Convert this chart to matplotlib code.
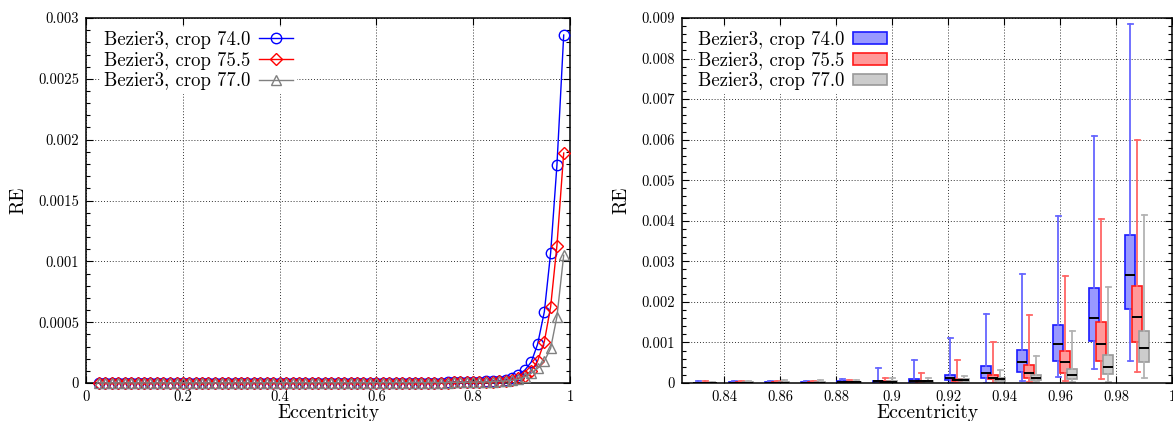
import matplotlib
matplotlib.use("Agg")
import matplotlib.pyplot as plt
from matplotlib.ticker import MultipleLocator, FuncFormatter
from matplotlib.lines import Line2D
from matplotlib.patches import Patch

plt.rcParams['font.family'] = ['cmr10', 'DejaVu Serif']
plt.rcParams['axes.formatter.use_mathtext'] = True
plt.rcParams['mathtext.fontset'] = 'cm'

# ---------------- data: left panel (mean RE vs eccentricity) ----------------
ecc = [0.027, 0.040, 0.053, 0.067, 0.080, 0.093, 0.107, 0.120, 0.133, 0.147,
       0.160, 0.173, 0.187, 0.200, 0.213, 0.227, 0.240, 0.253, 0.267, 0.280,
       0.293, 0.307, 0.320, 0.333, 0.347, 0.360, 0.373, 0.387, 0.400, 0.413,
       0.427, 0.440, 0.453, 0.467, 0.480, 0.493, 0.507, 0.520, 0.533, 0.547,
       0.560, 0.573, 0.587, 0.600, 0.613, 0.627, 0.640, 0.653, 0.667, 0.680,
       0.693, 0.707, 0.720, 0.733, 0.747, 0.760, 0.773, 0.787, 0.800, 0.813,
       0.827, 0.840, 0.853, 0.867, 0.880, 0.893, 0.907, 0.920, 0.933, 0.947,
       0.960, 0.973, 0.987]

re_740 = [1e-6, 1e-6, 1e-6, 1e-6, 1e-6, 1e-6, 1e-6, 1e-6, 1e-6, 1e-6,
          1e-6, 1e-6, 1e-6, 1e-6, 1e-6, 1e-6, 1e-6, 1e-6, 1e-6, 2e-6,
          2e-6, 2e-6, 2e-6, 2e-6, 2e-6, 2e-6, 2e-6, 2e-6, 2e-6, 2e-6,
          2e-6, 2e-6, 2e-6, 2e-6, 2e-6, 2e-6, 2e-6, 2e-6, 2e-6, 3e-6,
          3e-6, 3e-6, 3e-6, 3e-6, 3e-6, 3e-6, 3e-6, 3e-6, 3e-6, 4e-6,
          4e-6, 4e-6, 4e-6, 4e-6, 5e-6, 6e-6, 7e-6, 8e-6, 1.0e-5, 1.1e-5,
          1.3e-5, 1.6e-5, 2.0e-5, 2.8e-5, 4.0e-5, 6.5e-5, 0.000107, 0.000173, 0.000318, 0.000586,
          0.00107, 0.00179, 0.00286]

re_755 = [1e-6, 1e-6, 1e-6, 1e-6, 1e-6, 1e-6, 1e-6, 1e-6, 1e-6, 1e-6,
          1e-6, 1e-6, 1e-6, 1e-6, 1e-6, 1e-6, 1e-6, 1e-6, 1e-6, 1e-6,
          1e-6, 1e-6, 2e-6, 2e-6, 2e-6, 2e-6, 2e-6, 2e-6, 2e-6, 2e-6,
          2e-6, 2e-6, 2e-6, 2e-6, 2e-6, 2e-6, 2e-6, 2e-6, 2e-6, 2e-6,
          2e-6, 3e-6, 3e-6, 3e-6, 3e-6, 3e-6, 3e-6, 3e-6, 3e-6, 3e-6,
          3e-6, 4e-6, 4e-6, 4e-6, 4e-6, 5e-6, 5e-6, 6e-6, 7e-6, 8e-6,
          9e-6, 1.1e-5, 1.4e-5, 1.8e-5, 2.5e-5, 3.8e-5, 6.0e-5, 0.0001, 0.00018, 0.00034,
          0.000627, 0.00113, 0.00189]

re_770 = [1e-6, 1e-6, 1e-6, 1e-6, 1e-6, 1e-6, 1e-6, 1e-6, 1e-6, 1e-6,
          1e-6, 1e-6, 1e-6, 1e-6, 1e-6, 1e-6, 1e-6, 1e-6, 1e-6, 1e-6,
          1e-6, 1e-6, 1e-6, 1e-6, 2e-6, 2e-6, 2e-6, 2e-6, 2e-6, 2e-6,
          2e-6, 2e-6, 2e-6, 2e-6, 2e-6, 2e-6, 2e-6, 2e-6, 2e-6, 2e-6,
          2e-6, 2e-6, 3e-6, 3e-6, 3e-6, 3e-6, 3e-6, 3e-6, 3e-6, 3e-6,
          3e-6, 3e-6, 4e-6, 4e-6, 4e-6, 5e-6, 5e-6, 6e-6, 7e-6, 8e-6,
          9e-6, 1.1e-5, 1.4e-5, 1.7e-5, 2.2e-5, 3.0e-5, 5.0e-5, 8.0e-5, 0.00012, 0.00018,
          0.000285, 0.000545, 0.00105]

labels = ['Bezier3, crop 74.0', 'Bezier3, crop 75.5', 'Bezier3, crop 77.0']

# ---------------- data: right panel (RE distributions) ----------------
group_ecc = [0.8333, 0.8462, 0.8590, 0.8719, 0.8847, 0.8976, 0.9105,
             0.9233, 0.9362, 0.9490, 0.9619, 0.9747, 0.9876]

b740_lo  = [0, 0, 0, 0, 0, 0, 0, 0.00001, 0.00001, 0.00006, 0.00014, 0.00034, 0.00055]
b740_q1  = [2e-6, 4e-6, 5e-6, 6e-6, 0.00001, 0.00002, 0.00003, 0.00007, 0.00012, 0.00026, 0.00055, 0.00104, 0.00182]
b740_med = [5e-6, 0.00001, 0.00001, 0.00001, 0.00002, 0.00004, 0.00006, 0.00013, 0.00024, 0.00051, 0.00096, 0.0016, 0.00266]
b740_q3  = [0.00001, 0.00002, 0.00002, 0.00003, 0.00004, 0.00006, 0.00009, 0.0002, 0.00043, 0.00081, 0.00143, 0.00235, 0.00365]
b740_hi  = [0.00004, 0.00005, 0.00005, 0.00006, 0.00011, 0.00036, 0.00057, 0.0011, 0.00169, 0.00268, 0.00412, 0.0061, 0.00885]

b755_lo  = [0, 0, 0, 0, 0, 0, 0, 0.00001, 0.00001, 0.00002, 0.00006, 0.00009, 0.00028]
b755_q1  = [2e-6, 4e-6, 5e-6, 5e-6, 0.00001, 0.00001, 0.00002, 0.00004, 0.00009, 0.00012, 0.00025, 0.00054, 0.001]
b755_med = [5e-6, 0.00001, 0.00001, 0.00001, 0.00002, 0.00002, 0.00004, 0.00008, 0.00013, 0.00024, 0.00051, 0.00096, 0.00163]
b755_q3  = [0.00001, 0.00002, 0.00002, 0.00002, 0.00003, 0.00004, 0.00006, 0.0001, 0.0002, 0.00044, 0.0008, 0.0015, 0.0024]
b755_hi  = [0.00004, 0.00005, 0.00006, 0.00006, 0.00008, 0.00012, 0.00024, 0.00057, 0.00102, 0.00168, 0.00265, 0.00404, 0.00599]

b770_lo  = [0, 0, 0, 0, 0, 0, 0, 0.00001, 0.00002, 0.00002, 0.00002, 0.00003, 0.00012]
b770_q1  = [2e-6, 4e-6, 5e-6, 6e-6, 0.00001, 0.00002, 0.00002, 0.00004, 0.00006, 0.00008, 0.0001, 0.00021, 0.00053]
b770_med = [5e-6, 0.00001, 0.00001, 0.00001, 0.00002, 0.00003, 0.00004, 0.00007, 0.0001, 0.00013, 0.00019, 0.00039, 0.00086]
b770_q3  = [0.00001, 0.00002, 0.00002, 0.00002, 0.00003, 0.00004, 0.00005, 0.00009, 0.00013, 0.00019, 0.00035, 0.00068, 0.00129]
b770_hi  = [0.00003, 0.00004, 0.00007, 0.00007, 0.00008, 0.00013, 0.00013, 0.00018, 0.00032, 0.00067, 0.00127, 0.00236, 0.00414]

# ---------------- styling ----------------
line_colors = ['#0000ff', '#ff0000', '#808080']
markers = ['o', 'D', '^']
box_face = ['#9999ff', '#ff9999', '#cccccc']
box_edge = ['#1a1aff', '#ff1a1a', '#999999']
whisk_col = ['#6666ff', '#ff6666', '#b3b3b3']
box_offsets = [-0.0025, 0.0, 0.0025]

TICK_FS = 10.5
LABEL_FS = 14
LEG_FS = 13.5

fig = plt.figure(figsize=(11.73, 4.21), dpi=100)
ax1 = fig.add_axes([86 / 1173, 38 / 421, 484 / 1173, 365 / 421])
ax2 = fig.add_axes([682 / 1173, 38 / 421, 490 / 1173, 365 / 421])

fmt = FuncFormatter(lambda v, p: '%g' % round(v, 6))


def style_axes(ax):
    ax.grid(True, which='major', linestyle=(0, (1, 2)), color='#333333', linewidth=0.7)
    ax.set_axisbelow(True)
    ax.tick_params(which='both', direction='in', top=True, right=True, labelsize=TICK_FS, pad=5)
    ax.tick_params(which='major', length=5, width=0.8)
    ax.tick_params(which='minor', length=3, width=0.8)
    ax.tick_params(axis='x', which='minor', bottom=False, top=False)
    for s in ax.spines.values():
        s.set_linewidth(1.1)
        s.set_color('black')
    ax.xaxis.set_major_formatter(fmt)
    ax.yaxis.set_major_formatter(fmt)
    ax.set_xlabel('Eccentricity', fontsize=LABEL_FS, labelpad=0)
    ax.set_ylabel('RE', fontsize=LABEL_FS, labelpad=8)


# ---- left panel ----
series = [re_740, re_755, re_770]
handles = []
for vals, c, m, lab in zip(series, line_colors, markers, labels):
    ms = 7.5 if m != 'D' else 6
    ax1.plot(ecc, vals, color=c, marker=m, markersize=ms, markerfacecolor='none',
             markeredgecolor=c, markeredgewidth=1.0, linewidth=1.0, clip_on=False, zorder=3)
    handles.append(Line2D([], [], color=c, marker=m, markersize=ms, markerfacecolor='none',
                          markeredgecolor=c, markeredgewidth=1.0, linewidth=1.0))
ax1.set_xlim(0, 1)
ax1.set_ylim(0, 0.003)
ax1.xaxis.set_major_locator(MultipleLocator(0.2))
ax1.yaxis.set_major_locator(MultipleLocator(0.0005))
ax1.yaxis.set_minor_locator(MultipleLocator(0.0001))
style_axes(ax1)
leg1 = ax1.legend(handles, labels, loc='upper left', bbox_to_anchor=(0.030, 0.975),
                  markerfirst=False, fontsize=LEG_FS, frameon=True, fancybox=False,
                  edgecolor='none', facecolor='white', framealpha=1,
                  handlelength=1.8, handletextpad=0.45, labelspacing=0.14,
                  borderpad=0.2, borderaxespad=0)
leg1.set_zorder(5)

# ---- right panel ----
box_sets = [
    (b740_lo, b740_q1, b740_med, b740_q3, b740_hi),
    (b755_lo, b755_q1, b755_med, b755_q3, b755_hi),
    (b770_lo, b770_q1, b770_med, b770_q3, b770_hi),
]
for i, (lo, q1, med, q3, hi) in enumerate(box_sets):
    stats = []
    for j in range(len(group_ecc)):
        stats.append(dict(whislo=lo[j], q1=q1[j], med=med[j], q3=q3[j], whishi=hi[j], fliers=[]))
    pos = [g + box_offsets[i] for g in group_ecc]
    ax2.bxp(stats, positions=pos, widths=0.0036, capwidths=0.0018, showfliers=False,
            patch_artist=True, manage_ticks=False,
            boxprops=dict(facecolor=box_face[i], edgecolor=box_edge[i], linewidth=1.2),
            whiskerprops=dict(color=whisk_col[i], linewidth=1.3),
            capprops=dict(color=whisk_col[i], linewidth=1.3),
            medianprops=dict(color='black', linewidth=1.4))
ax2.set_xlim(0.825, 1.0)
ax2.set_ylim(0, 0.009)
ax2.xaxis.set_major_locator(MultipleLocator(0.02))
ax2.yaxis.set_major_locator(MultipleLocator(0.001))
ax2.yaxis.set_minor_locator(MultipleLocator(0.0002))
style_axes(ax2)
ax2.set_xticks([0.84, 0.86, 0.88, 0.90, 0.92, 0.94, 0.96, 0.98, 1.0])
phandles = [Patch(facecolor=box_face[i], edgecolor=box_edge[i], linewidth=1.2) for i in range(3)]
leg2 = ax2.legend(phandles, labels, loc='upper left', bbox_to_anchor=(0.026, 0.975),
                  markerfirst=False, fontsize=LEG_FS, frameon=True, fancybox=False,
                  edgecolor='none', facecolor='white', framealpha=1,
                  handlelength=1.8, handleheight=0.6, handletextpad=0.45, labelspacing=0.14,
                  borderpad=0.2, borderaxespad=0)
leg2.set_zorder(5)

fig.savefig('out.png', dpi=100)
